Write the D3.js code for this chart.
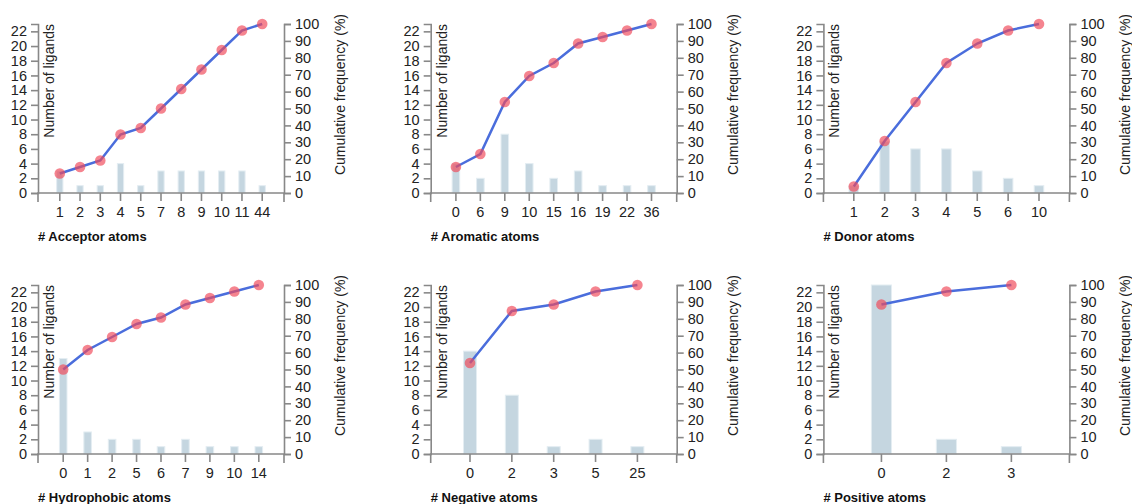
<!DOCTYPE html>
<html>
<head>
<meta charset="utf-8">
<script src="https://cdn.jsdelivr.net/npm/d3@7"></script>
<style>
  body { margin: 0; background: #fff; }
  svg { font-family: Arial, "Liberation Sans", sans-serif; }
  .axis path, .axis line { stroke: #888; stroke-width: 1.6; fill: none; }
  .axis text { font-size: 14.5px; fill: #222; }
  .lbl { font-size: 14px; fill: #222; }
  .xlbl { font-size: 13px; font-weight: bold; fill: #111; }
</style>
</head>
<body>
<svg id="chart" width="1132" height="504"></svg>
<script>
// counts per category, one pair of arrays per panel
var acceptorCats = ["1","2","3","4","5","7","8","9","10","11","44"];
var acceptorCounts = [3,1,1,4,1,3,3,3,3,3,1];
var aromaticCats = ["0","6","9","10","15","16","19","22","36"];
var aromaticCounts = [4,2,8,4,2,3,1,1,1];
var donorCats = ["1","2","3","4","5","6","10"];
var donorCounts = [1,7,6,6,3,2,1];
var hydrophobicCats = ["0","1","2","5","6","7","9","10","14"];
var hydrophobicCounts = [13,3,2,2,1,2,1,1,1];
var negativeCats = ["0","2","3","5","25"];
var negativeCounts = [14,8,1,2,1];
var positiveCats = ["0","2","3"];
var positiveCounts = [23,2,1];

var panels = [
  {title: "# Acceptor atoms", cats: acceptorCats, counts: acceptorCounts},
  {title: "# Aromatic atoms", cats: aromaticCats, counts: aromaticCounts},
  {title: "# Donor atoms", cats: donorCats, counts: donorCounts},
  {title: "# Hydrophobic atoms", cats: hydrophobicCats, counts: hydrophobicCounts},
  {title: "# Negative atoms", cats: negativeCats, counts: negativeCounts},
  {title: "# Positive atoms", cats: positiveCats, counts: positiveCounts}
];

var width = 246, height = 169;
var svg = d3.select("#chart");

// shared left scale: max count over every panel
var maxCount = d3.max(panels, function(p) { return d3.max(p.counts); });

panels.forEach(function(p, i) {
  var col = i % 3, row = Math.floor(i / 3);
  var g = svg.append("g")
    .attr("transform", "translate(" + (38 + col * 392.7) + "," + (24 + row * 261) + ")");

  var x = d3.scaleBand()
    .domain(p.cats)
    .range([5.4, width - 5.4])
    .paddingInner(0.69)
    .paddingOuter(0.655);
  var y = d3.scaleLinear().domain([0, maxCount]).range([height, 0]);
  var y2 = d3.scaleLinear().domain([0, 100]).range([height, 0]);

  var total = d3.sum(p.counts);
  var cum = Array.from(d3.cumsum(p.counts), function(c) { return c / total * 100; });
  var rows = p.cats.map(function(c, k) { return {cat: c, n: p.counts[k], pct: cum[k]}; });

  // bars
  g.selectAll(".bar").data(rows).enter().append("rect")
    .attr("class", "bar")
    .attr("x", function(d) { return x(d.cat); })
    .attr("width", x.bandwidth())
    .attr("y", function(d) { return y(d.n); })
    .attr("height", function(d) { return height - y(d.n); })
    .attr("fill", "#c5d6e0")
    .attr("stroke", "#e4edf2")
    .attr("stroke-width", 1);

  // axes
  var xa = g.append("g").attr("class", "axis")
    .attr("transform", "translate(0," + height + ")")
    .call(d3.axisBottom(x).tickSize(8).tickSizeOuter(0).tickPadding(6));
  xa.select(".domain").remove();
  xa.append("path").attr("class", "domain")
    .attr("d", "M0,9V0H" + width + "V9");

  g.append("g").attr("class", "axis")
    .call(d3.axisLeft(y).tickSize(7).tickPadding(4));

  g.append("g").attr("class", "axis")
    .attr("transform", "translate(" + width + ",0)")
    .call(d3.axisRight(y2).tickSize(7).tickPadding(4));

  // cumulative line + dots
  var line = d3.line()
    .x(function(d) { return x(d.cat) + x.bandwidth() / 2; })
    .y(function(d) { return y2(d.pct); });

  g.append("path").datum(rows)
    .attr("d", line)
    .attr("fill", "none")
    .attr("stroke", "#4a6ddc")
    .attr("stroke-width", 2.5);

  g.selectAll(".dot").data(rows).enter().append("circle")
    .attr("class", "dot")
    .attr("cx", function(d) { return x(d.cat) + x.bandwidth() / 2; })
    .attr("cy", function(d) { return y2(d.pct); })
    .attr("r", 5.3)
    .attr("fill", "#f04a5a")
    .attr("fill-opacity", 0.68);

  // labels
  g.append("text").attr("class", "lbl")
    .attr("transform", "rotate(-90)")
    .attr("y", 6).attr("dy", ".71em")
    .style("text-anchor", "end")
    .text("Number of ligands");

  g.append("text").attr("class", "lbl")
    .attr("transform", "translate(" + (width + 61) + ",-10) rotate(-90)")
    .style("text-anchor", "end")
    .text("Cumulative frequency (%)");

  g.append("text").attr("class", "xlbl")
    .attr("x", 0).attr("y", height + 48)
    .text(p.title);
});
</script>
</body>
</html>
